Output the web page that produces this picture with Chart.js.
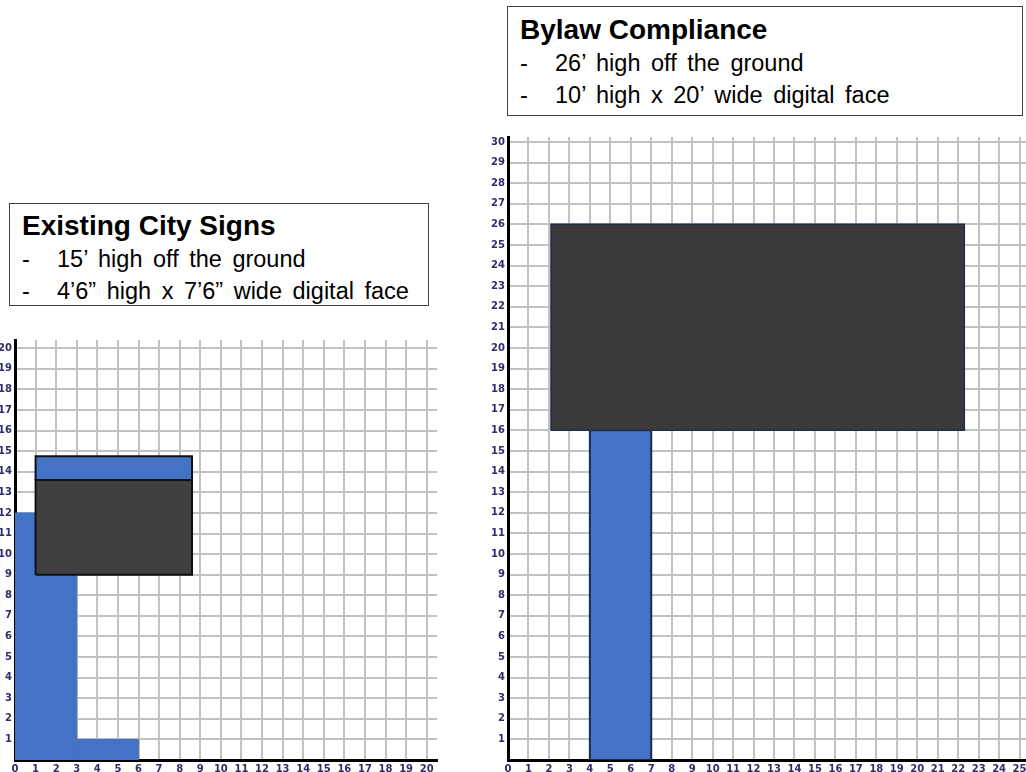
<!DOCTYPE html>
<html>
<head>
<meta charset="utf-8">
<script src="https://cdn.jsdelivr.net/npm/chart.js@4.4.1/dist/chart.umd.min.js"></script>
<style>
  html, body { margin: 0; padding: 0; background: #fff; overflow: hidden; width: 1026px; height: 772px; }
  .box { position: absolute; border: 1px solid #404040; background: #fff; font-family: "Liberation Sans", Arial, sans-serif; color: #000; box-sizing: border-box; }
  .box .title { font-weight: bold; font-size: 28px; line-height: 34px; padding-left: 12px; }
  .box .line { font-size: 23.5px; line-height: 32px; padding-left: 12px; word-spacing: 4px; }
  .box .dash { display: inline-block; width: 35px; }
  canvas { position: absolute; }
</style>
</head>
<body>
<div class="box" style="left:9px; top:203px; width:420px; height:103px; padding-top:5px;">
  <div class="title">Existing City Signs</div>
  <div class="line"><span class="dash">-</span>15’ high off the ground</div>
  <div class="line"><span class="dash">-</span>4’6” high x 7’6” wide digital face</div>
</div>
<div class="box" style="left:507px; top:6px; width:516px; height:110px; padding-top:6px;">
  <div class="title">Bylaw Compliance</div>
  <div class="line"><span class="dash">-</span>26’ high off the ground</div>
  <div class="line"><span class="dash">-</span>10’ high x 20’ wide digital face</div>
</div>
<canvas id="existing" width="450" height="450" style="left:0; top:330px;"></canvas>
<canvas id="bylaw" width="560" height="653" style="left:490px; top:127px;"></canvas>
<script>
// sign parts in feet: [x0, x1, y0, y1]
const existingPole = [0, 3, 0, 12];
const existingBase = [3, 6, 0, 1];
const existingFace = [1, 8.6, 9, 13.6];
const existingCap = [1, 8.6, 13.6, 14.75];

const bylawPole = [4, 7, 0, 16];
const bylawFace = [2.1, 22.3, 16, 26];

// visible extent of each grid
const existingMax = { x: 20.5, y: 20.4 };
const bylawMax = { x: 26.3, y: 30.24 };

const blue = '#4472c4';
const darkFace = '#3b3a39';

function rectPoints(r) {
    return [
        { x: r[0], y: r[2] }, { x: r[1], y: r[2] },
        { x: r[1], y: r[3] }, { x: r[0], y: r[3] },
        { x: r[0], y: r[2] }
    ];
}

function part(r, fill, stroke, width, order) {
    return {
        data: rectPoints(r),
        showLine: true,
        fill: 'shape',
        backgroundColor: fill,
        borderColor: stroke,
        borderWidth: width,
        pointRadius: 0,
        tension: 0,
        order: order
    };
}

function gridScale(max, axis) {
    return {
        type: 'linear',
        min: 0,
        max: max,
        ticks: {
            stepSize: 1,
            padding: 3,
            color: '#2d2d6b',
            font: { family: 'DejaVu Sans', size: 10, weight: 'bold' },
            callback: v => (axis === 'y' && v === 0) ? '' : v
        },
        grid: { color: '#c2c2c2', lineWidth: 2, drawTicks: false },
        border: { color: '#000', width: 3 },
        // one tick per foot, up to the last whole foot
        afterBuildTicks: s => {
            const ticks = [];
            for (let v = 0; v <= Math.floor(max); v++) ticks.push({ value: v });
            s.ticks = ticks;
        },
        afterFit: s => {
            if (axis === 'y') s.width = s.chart.canvas.id === 'existing' ? 15 : 18;
            else s.height = 20;
        }
    };
}

function makeGrid(id, datasets, max, padRight) {
    new Chart(document.getElementById(id), {
        type: 'scatter',
        data: { datasets: datasets },
        options: {
            responsive: false,
            animation: false,
            layout: { padding: { top: 10, right: padRight, left: 0, bottom: 0 } },
            plugins: { legend: { display: false }, tooltip: { enabled: false } },
            scales: { x: gridScale(max.x, 'x'), y: gridScale(max.y, 'y') }
        }
    });
}

makeGrid('existing', [
    part(existingCap, blue, '#111', 2, 1),
    part(existingFace, '#404040', '#111', 2, 0),
    part(existingPole, blue, blue, 1, 3),
    part(existingBase, blue, blue, 1, 3)
], existingMax, 13);

makeGrid('bylaw', [
    part(bylawFace, darkFace, '#1f2d4d', 1.5, 0),
    part(bylawPole, blue, '#1c2b4a', 2, 1)
], bylawMax, 0);
</script>
</body>
</html>
